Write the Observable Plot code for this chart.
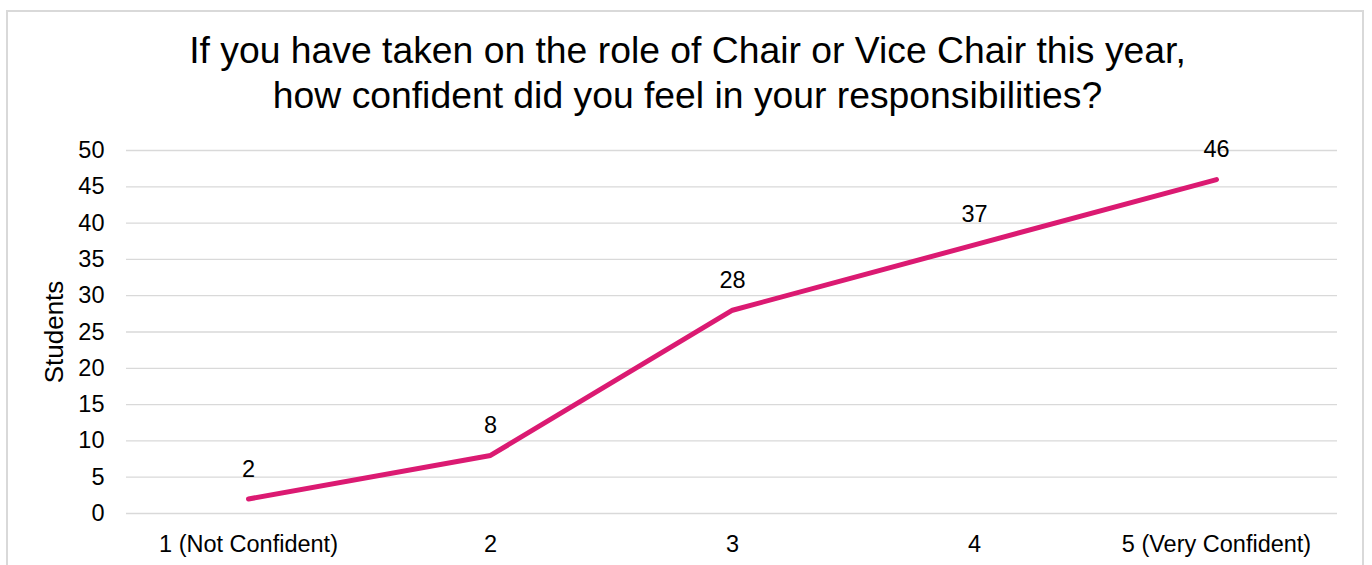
<!DOCTYPE html>
<html>
<head>
<meta charset="utf-8">
<script src="https://cdn.jsdelivr.net/npm/d3@7"></script>
<script src="https://cdn.jsdelivr.net/npm/@observablehq/plot@0.6"></script>
<style>
  html, body { margin: 0; padding: 0; background: #fff; }
  #wrap { position: relative; width: 1372px; height: 565px; overflow: hidden; font-family: "Liberation Sans", Arial, sans-serif; }
  #frame { position: absolute; left: 6px; top: 10px; width: 1358px; height: 600px; border: 2px solid #d9d9d9; box-sizing: border-box; }
  #title { position: absolute; left: 0; top: 28px; width: 1375px; text-align: center; font-size: 37.3px; line-height: 45px; color: #000; }
  #chart { position: absolute; left: 0; top: 0; }
</style>
</head>
<body>
<div id="wrap">
  <div id="frame"></div>
  <div id="title">If you have taken on the role of Chair or Vice Chair this year,<br>how confident did you feel in your responsibilities?</div>
  <div id="chart"></div>
</div>
<script>
const categories = ["1 (Not Confident)", "2", "3", "4", "5 (Very Confident)"];
const students = [2, 8, 28, 37, 46];
const yTicks = [0, 5, 10, 15, 20, 25, 30, 35, 40, 45, 50];

const data = categories.map((c, i) => ({category: c, value: students[i]}));

const chart = Plot.plot({
  width: 1372,
  height: 565,
  marginLeft: 126,
  marginRight: 35,
  marginTop: 150,
  marginBottom: 52,
  style: {fontFamily: "'Liberation Sans', Arial, sans-serif", fontSize: "23.5px", color: "#000", background: "transparent", overflow: "visible"},
  x: {type: "point", domain: categories, padding: 0.5, label: null, tickSize: 0, tickPadding: 22},
  y: {domain: [0, 50], ticks: yTicks, label: "Students", labelAnchor: "center", labelArrow: "none", labelOffset: 82, tickSize: 0, tickPadding: 22},
  marks: [
    Plot.gridY(yTicks, {stroke: "#d9d9d9", strokeOpacity: 1, strokeWidth: 1.3}),
    Plot.line(data, {x: "category", y: "value", stroke: "#DB1A72", strokeWidth: 5, strokeLinecap: "round", strokeLinejoin: "round"}),
    Plot.text(data, {x: "category", y: "value", text: d => String(d.value), dy: -30, fontSize: 23.5, fill: "#000"})
  ]
});
document.getElementById("chart").appendChild(chart);
const lab = chart.querySelector('g[aria-label="y-axis label"]');
if (lab) lab.setAttribute("font-size", "26px");
</script>
</body>
</html>
